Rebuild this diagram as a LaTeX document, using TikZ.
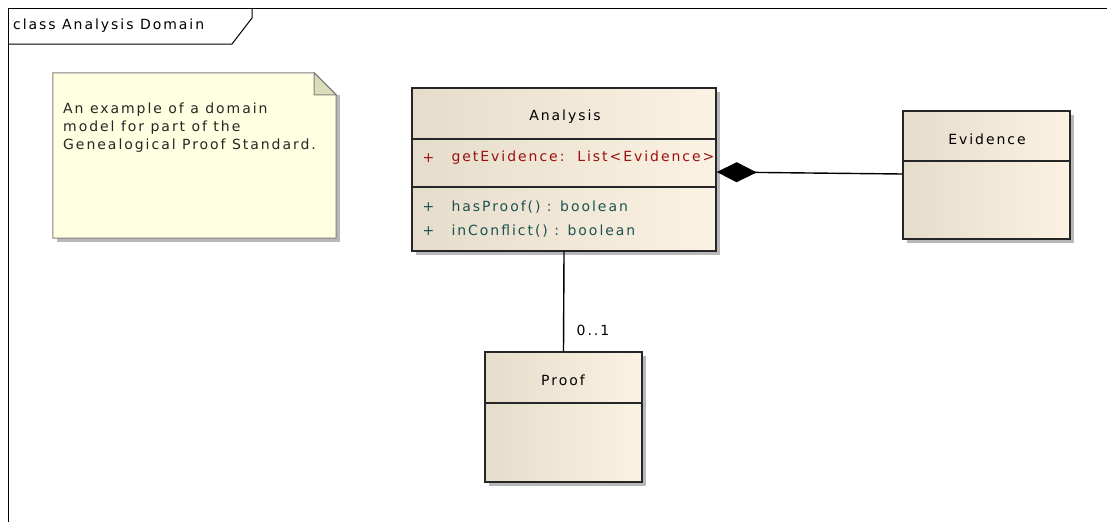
\documentclass[tikz,border=0pt]{standalone}
\usepackage{fontspec}
\setmainfont{DejaVu Sans}[LetterSpace=14]
\usetikzlibrary{positioning, arrows.meta, shadows}

\definecolor{classleft}{HTML}{E6DCCB}
\definecolor{classright}{HTML}{FCF2E3}
\definecolor{notefill}{HTML}{FFFFE1}
\definecolor{notefold}{HTML}{DCDCB8}
\definecolor{attrred}{HTML}{9A1010}
\definecolor{opteal}{HTML}{1C5252}

\begin{document}
\begin{tikzpicture}[
    x=1pt, y=-1pt,
    every node/.style={font=\fontsize{14}{18}\selectfont},
    classbox/.style={rectangle, draw=black!85, line width=1.4pt, inner sep=0pt,
        left color=classleft, right color=classright,
        drop shadow={shadow xshift=4pt, shadow yshift=-4pt, fill=black!28, opacity=1}},
    divider/.style={draw=black!85, line width=1.4pt},
    classname/.style={text=black},
    attr/.style={anchor=west, text=attrred},
    oper/.style={anchor=west, text=opteal},
    assoc/.style={draw=black, line width=1.4pt},
    comp/.style={assoc, {Diamond[length=40pt, width=20pt]}-}
]
\useasboundingbox (0,0) rectangle (1107,522);

% ===== Frame =====
\draw[line width=1pt] (1107,8) -- (8,8) -- (8,522);
\draw[line width=1pt] (8,44) -- (232,44) -- (252,18) -- (252,8);
\node[anchor=west, inner sep=0pt] (frametitle) at (13,26) {class Analysis Domain};

% ===== Note =====
\node[rectangle, minimum width=283pt, minimum height=165pt, inner sep=0pt] (note) at (194.5,155.5) {};
\fill[black!28] ([xshift=4pt, yshift=-4pt]note.south west) rectangle ([xshift=4pt, yshift=-22pt]note.north east);
\draw[fill=notefill, draw=black!50, line width=1pt] (note.south west) -- (note.north west)
    -- ([xshift=-22pt]note.north east) -- ([yshift=-22pt]note.north east) -- (note.south east) -- cycle;
\draw[fill=notefold, draw=black!50, line width=1pt] ([xshift=-22pt]note.north east)
    -- ([xshift=-22pt, yshift=-22pt]note.north east) -- ([yshift=-22pt]note.north east) -- cycle;
\node[anchor=north west, align=left, inner sep=0pt, text=black!85] (notetext) at (63,103)
    {An example of a domain\\model for part of the\\Genealogical Proof Standard.};

% ===== Analysis =====
\node[classbox, minimum width=304pt, minimum height=163pt] (analysis) at (564,169.5) {};
\draw[divider] (analysis.west |- 0,139) -- (analysis.east |- 0,139);
\draw[divider] (analysis.west |- 0,187) -- (analysis.east |- 0,187);
\node[classname] (analysisname) at (565,117) {Analysis};
\node[attr] (attrvis) at (419,158) {+};
\node[attr] (attrname) at (448,158) {getEvidence:\ \ List<Evidence>};
\node[oper] (opvisA) at (419,207) {+};
\node[oper] (opnameA) at (448,207) {hasProof() : boolean};
\node[oper] (opvisB) at (419,231) {+};
\node[oper] (opnameB) at (448,231) {inConflict() : boolean};

% ===== Evidence =====
\node[classbox, minimum width=167pt, minimum height=128pt] (evidence) at (986.5,175) {};
\draw[divider] (evidence.west |- 0,161) -- (evidence.east |- 0,161);
\node[classname] (evidencename) at (987,139) {Evidence};

% ===== Proof =====
\node[classbox, minimum width=157pt, minimum height=130pt] (proof) at (563.5,417) {};
\draw[divider] (proof.west |- 0,403) -- (proof.east |- 0,403);
\node[classname] (proofname) at (563,380) {Proof};

% ===== Connectors =====
\draw[comp] ([yshift=-2.5pt]analysis.east) -- ([yshift=1pt]evidence.west);
\draw[assoc] (analysis.south) -- (proof.north);
\node (multproof) at (593,330) {0..1};

\end{tikzpicture}
\end{document}
